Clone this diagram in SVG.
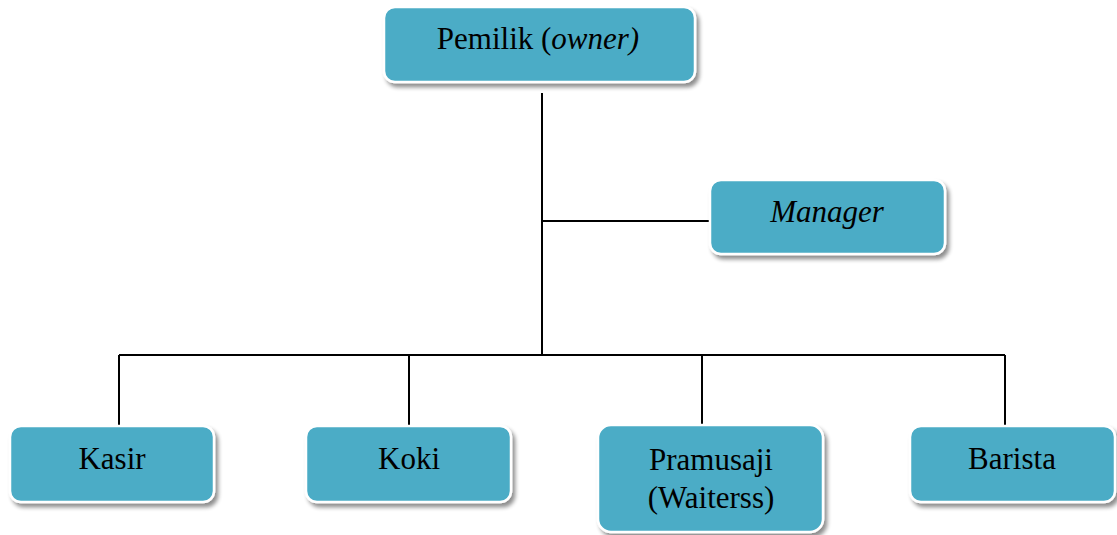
<svg xmlns="http://www.w3.org/2000/svg" width="1117" height="535" viewBox="0 0 1117 535">
<defs>
<filter id="sh" x="-10%" y="-10%" width="125%" height="135%">
<feGaussianBlur in="SourceAlpha" stdDeviation="2"/>
<feOffset dx="3" dy="4" result="b"/>
<feComponentTransfer><feFuncA type="linear" slope="0.45"/></feComponentTransfer>
<feMerge><feMergeNode/><feMergeNode in="SourceGraphic"/></feMerge>
</filter>
</defs>
<style>
.box{fill:#4BACC6;stroke:#ffffff;stroke-width:2.5;filter:url(#sh)}
.c{stroke:#000;stroke-width:2;fill:none}
</style>
<rect width="1117" height="535" fill="#fff"/>
<g id="connectors">
<path class="c" d="M542 93V355M542 221H710M119 355H1005M119 355V426M409 355V426M702 355V426M1005 355V426"/>
</g>
<g id="owner">
<rect class="box" x="384" y="7" width="311" height="75" rx="11"/>
<text x="538" y="49" style="font-family:'Liberation Serif','Times New Roman',serif;font-size:31px;text-anchor:middle;fill:#000">Pemilik (<tspan style="font-style:italic">owner)</tspan></text>
</g>
<g id="manager">
<rect class="box" x="710" y="180" width="235" height="74" rx="11"/>
<text x="827" y="222" style="font-family:'Liberation Serif','Times New Roman',serif;font-size:31px;text-anchor:middle;font-style:italic;fill:#000">Manager</text>
</g>
<g id="kasir">
<rect class="box" x="10" y="426" width="204" height="76" rx="11"/>
<text x="112" y="469" style="font-family:'Liberation Serif','Times New Roman',serif;font-size:31px;text-anchor:middle;fill:#000">Kasir</text>
</g>
<g id="koki">
<rect class="box" x="306" y="426" width="205" height="76" rx="11"/>
<text x="409" y="469" style="font-family:'Liberation Serif','Times New Roman',serif;font-size:31px;text-anchor:middle;fill:#000">Koki</text>
</g>
<g id="pramusaji">
<rect class="box" x="598" y="425" width="225" height="107" rx="13"/>
<text x="711" y="470" style="font-family:'Liberation Serif','Times New Roman',serif;font-size:31px;text-anchor:middle;fill:#000">Pramusaji</text>
<text x="711" y="508" style="font-family:'Liberation Serif','Times New Roman',serif;font-size:31px;text-anchor:middle;fill:#000">(Waiterss)</text>
</g>
<g id="barista">
<rect class="box" x="910" y="426" width="205" height="76" rx="11"/>
<text x="1012" y="469" style="font-family:'Liberation Serif','Times New Roman',serif;font-size:31px;text-anchor:middle;fill:#000">Barista</text>
</g>
</svg>
